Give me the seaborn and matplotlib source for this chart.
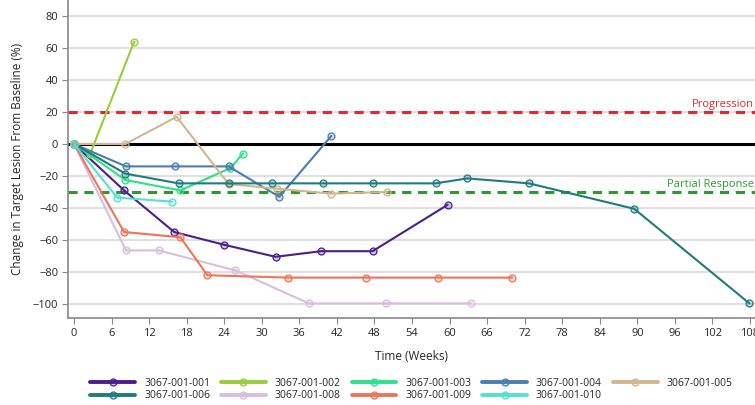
import matplotlib
matplotlib.use('Agg')
import matplotlib.pyplot as plt
from matplotlib.lines import Line2D
import seaborn as sns

# --- data ---
patients = ['3067-001-001', '3067-001-002', '3067-001-003', '3067-001-004', '3067-001-005',
            '3067-001-006', '3067-001-008', '3067-001-009', '3067-001-010']

weeks_001 = [0, 8, 16, 24, 32.2, 39.5, 47.7, 59.7]
pct_001 = [0, -29, -55, -63, -70.5, -67, -67, -38]

weeks_002 = [0, 2.6, 9.6]
pct_002 = [0, -6, 64]

weeks_003 = [0, 8.2, 17, 25, 27]
pct_003 = [0, -22.5, -29, -15, -6]

weeks_004 = [0, 8.3, 16.1, 24.7, 32.8, 41.1]
pct_004 = [0, -14, -14, -14, -33, 5]

weeks_005 = [0, 8.2, 16.4, 24.7, 32.5, 41.1, 50]
pct_005 = [0, 0, 17, -25, -28, -31, -30]

weeks_006 = [0, 8.2, 16.7, 24.7, 31.7, 39.8, 47.8, 57.8, 62.8, 72.7, 89.5, 107.9]
pct_006 = [0, -18.5, -24.6, -24.6, -24.6, -24.6, -24.6, -24.6, -21.5, -24.6, -40.5, -99.6]

weeks_008 = [0, 8.3, 13.5, 25.8, 37.5, 49.8, 63.4]
pct_008 = [0, -66.5, -66.5, -79, -99.6, -99.6, -99.6]

weeks_009 = [0, 8, 17, 21.3, 34.2, 46.7, 58.1, 70]
pct_009 = [0, -55, -58.3, -82, -83.5, -83.5, -83.5, -83.5]

weeks_010 = [0, 6.9, 15.6]
pct_010 = [0, -33.5, -36]

series = {
    '3067-001-001': (weeks_001, pct_001),
    '3067-001-002': (weeks_002, pct_002),
    '3067-001-003': (weeks_003, pct_003),
    '3067-001-004': (weeks_004, pct_004),
    '3067-001-005': (weeks_005, pct_005),
    '3067-001-006': (weeks_006, pct_006),
    '3067-001-008': (weeks_008, pct_008),
    '3067-001-009': (weeks_009, pct_009),
    '3067-001-010': (weeks_010, pct_010),
}

colors = {
    '3067-001-001': '#4B1E8A',
    '3067-001-002': '#9ACD3C',
    '3067-001-003': '#2EE08A',
    '3067-001-004': '#4A7DB0',
    '3067-001-005': '#D2B690',
    '3067-001-006': '#1E7C7C',
    '3067-001-008': '#D9BEDD',
    '3067-001-009': '#F07458',
    '3067-001-010': '#55E0D2',
}

x_ticks = list(range(0, 109, 6))
y_ticks = list(range(-100, 81, 20))

sns.set_style('white')
plt.rcParams['font.family'] = ['Open Sans', 'DejaVu Sans']

fig = plt.figure(figsize=(7.55, 4.05), dpi=100)
ax = fig.add_axes([68 / 755, 87 / 405, 687 / 755, 318 / 405])

# gridlines and reference lines
for yv in y_ticks:
    ax.axhline(yv, color='#DADADA', lw=1.2, zorder=0)
ax.axhline(0, color='black', lw=2.2, zorder=1)
ax.axhline(20, color='#E8262B', lw=2.2, ls=(0, (3, 2.2)), zorder=1)
ax.axhline(-30, color='#2E9A2E', lw=2.2, ls=(0, (3, 2.2)), zorder=1)

for name in patients:
    wx, wy = series[name]
    c = colors[name]
    sns.lineplot(x=wx, y=wy, ax=ax, color=c, lw=1.5, marker='o', ms=5,
                 markerfacecolor=c + '40', markeredgecolor=c, markeredgewidth=0.9,
                 legend=False, zorder=3)

ax.text(108.6, 21.5, 'Progression', color='#E8262B', fontsize=8, ha='right', va='bottom')
ax.text(108.6, -28.5, 'Partial Response', color='#2E9A2E', fontsize=8, ha='right', va='bottom')

ax.set_xlim(-0.96, 108.8)
ax.set_ylim(-108.75, 90)
ax.set_xticks(x_ticks)
ax.set_yticks(y_ticks)
ax.tick_params(axis='both', labelsize=8, length=4, color='#888888', direction='out',
               bottom=True, left=True, pad=3)
ax.set_xlabel('Time (Weeks)', fontsize=8.5, labelpad=8)
ax.set_ylabel('Change in Target Lesion From Baseline (%)', fontsize=8.5, labelpad=6)
for s in ['top', 'right']:
    ax.spines[s].set_visible(False)
for s in ['left', 'bottom']:
    ax.spines[s].set_color('#888888')
    ax.spines[s].set_linewidth(1.2)

# legend laid out row-wise across 5 columns (matplotlib fills column by column)
order = ['3067-001-001', '3067-001-006', '3067-001-002', '3067-001-008', '3067-001-003',
         '3067-001-009', '3067-001-004', '3067-001-010', '3067-001-005']
proxies = [Line2D([], [], color=colors[k], lw=2.8, marker='o', ms=5,
                  markerfacecolor=colors[k] + '40', markeredgecolor=colors[k],
                  markeredgewidth=0.9) for k in order]
fig.legend(proxies, order, ncol=5, loc='center',
           bbox_to_anchor=(0.545, 0.038), frameon=False, fontsize=7.5,
           handlelength=4.3, handletextpad=0.85, columnspacing=1.05,
           labelspacing=0.15, borderpad=0)

fig.savefig('out.png', dpi=100)
